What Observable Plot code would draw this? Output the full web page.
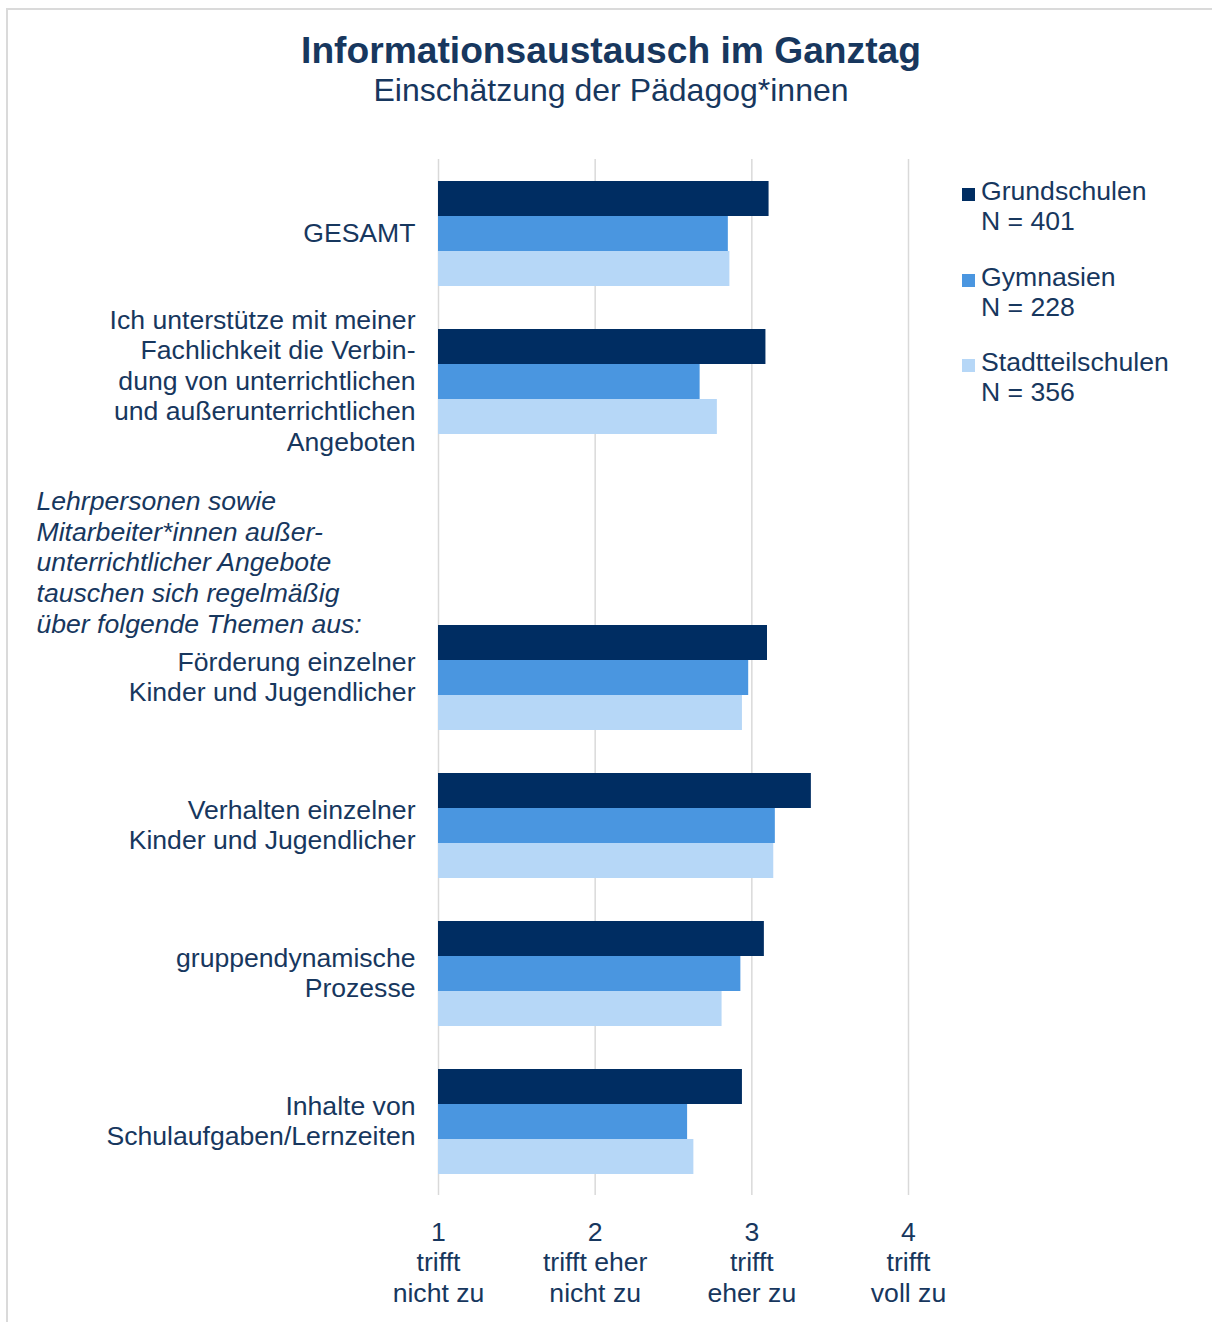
<!DOCTYPE html>
<html>
<head>
<meta charset="utf-8">
<script src="https://cdn.jsdelivr.net/npm/d3@7"></script>
<script src="https://cdn.jsdelivr.net/npm/@observablehq/plot@0.6"></script>
<style>
  html, body { margin: 0; padding: 0; background: #fff; }
  body { width: 1212px; height: 1322px; overflow: hidden; position: relative;
         font-family: "Liberation Sans", Arial, sans-serif; color: #17375e; }
  #frame { position: absolute; left: 6px; top: 8px; width: 1240px; height: 1340px;
           border: 2px solid #dadada; box-sizing: border-box; z-index: 10; pointer-events: none; }
  #title { position: absolute; left: 0; width: 1222px; top: 32px; text-align: center;
           font-weight: bold; font-size: 37.2px; line-height: 37px; }
  #subtitle { position: absolute; left: 0; width: 1222px; top: 74px; text-align: center;
              font-size: 32px; line-height: 32px; }
  #chart { position: absolute; left: 0; top: 120px; }
  .leg { position: absolute; left: 981px; font-size: 26.6px; line-height: 30px; white-space: pre; }
  .sw { position: absolute; left: 962px; width: 13px; height: 13px; }
</style>
</head>
<body>
<div id="frame"></div>
<div id="title"></div>
<div id="subtitle"></div>
<div id="chart"></div>
<div id="legend"></div>
<script>
const titleText = "Informationsaustausch im Ganztag";
const subtitleText = "Einschätzung der Pädagog*innen";

const categories = [
  "GESAMT",
  "Ich unterstütze mit meiner\nFachlichkeit die Verbin-\ndung von unterrichtlichen\nund außerunterrichtlichen\nAngeboten",
  "Lehrpersonen sowie\nMitarbeiter*innen außer-\nunterrichtlicher Angebote\ntauschen sich regelmäßig\nüber folgende Themen aus:",
  "Förderung einzelner\nKinder und Jugendlicher",
  "Verhalten einzelner\nKinder und Jugendlicher",
  "gruppendynamische\nProzesse",
  "Inhalte von\nSchulaufgaben/Lernzeiten"
];
const headingIndex = 2;

const series = ["Grundschulen", "Gymnasien", "Stadtteilschulen"];
const seriesN = ["N = 401", "N = 228", "N = 356"];
const colors = ["#002d62", "#4a96e0", "#b6d7f7"];

const grundschulen     = [3.11, 3.09, null, 3.10, 3.38, 3.08, 2.94];
const gymnasien        = [2.85, 2.67, null, 2.98, 3.15, 2.93, 2.59];
const stadtteilschulen = [2.86, 2.78, null, 2.94, 3.14, 2.81, 2.63];

const xTicks = [1, 2, 3, 4];
const xTickLabels = ["1\ntrifft\nnicht zu", "2\ntrifft eher\nnicht zu", "3\ntrifft\neher zu", "4\ntrifft\nvoll zu"];

const textColor = "#17375e";
const gridColor = "#d9d9d9";
const font = "Liberation Sans, Arial, sans-serif";
const fs = 26.6;

document.getElementById("title").textContent = titleText;
document.getElementById("subtitle").textContent = subtitleText;

const valueSets = [grundschulen, gymnasien, stadtteilschulen];
const rows = [];
categories.forEach((c, i) => {
  series.forEach((s, j) => {
    const v = valueSets[j][i];
    if (v != null) rows.push({category: c, series: s, value: v});
  });
});
const labelRows = categories.filter((c, i) => i !== headingIndex).map(c => ({category: c}));
const headingRows = [{category: categories[headingIndex]}];
const tickRows = xTicks.map((t, i) => ({tick: t, label: xTickLabels[i]}));
const lastCat = categories[categories.length - 1];

const chart = Plot.plot({
  width: 950,
  height: 1200,
  marginLeft: 438,
  marginRight: 42,
  marginTop: 38,
  marginBottom: 125,
  style: {fontFamily: font, background: "white", overflow: "visible"},
  x: {domain: [1, 4], axis: null},
  fy: {domain: categories, padding: 0, axis: null},
  y: {domain: series, paddingInner: 0, paddingOuter: 0.614, axis: null},
  color: {domain: series, range: colors},
  marks: [
    Plot.ruleX(xTicks, {x: d => d, stroke: gridColor, strokeWidth: 1.5}),
    Plot.barX(rows, {fy: "category", y: "series", x1: () => 1, x2: "value", fill: "series"}),
    Plot.text(labelRows, {fy: "category", text: "category", frameAnchor: "left", textAnchor: "end",
      dx: -23, dy: -1.5, fontSize: fs, lineHeight: 1.15, fill: textColor, fontFamily: font}),
    Plot.text(headingRows, {fy: "category", text: "category", frameAnchor: "left", textAnchor: "start",
      dx: -402, dy: 32, fontSize: fs, lineHeight: 1.155, fontStyle: "italic", fill: textColor, fontFamily: font}),
    Plot.text(tickRows, {fy: () => lastCat, x: "tick", text: "label", frameAnchor: "bottom", lineAnchor: "top",
      dy: 23, fontSize: fs, lineHeight: 1.165, fill: textColor, fontFamily: font})
  ]
});
document.getElementById("chart").appendChild(chart);

const legend = document.getElementById("legend");
const legTops = [176, 262, 347];
series.forEach((s, i) => {
  const t = document.createElement("div");
  t.className = "leg";
  t.style.top = legTops[i] + "px";
  t.textContent = s + "\n" + seriesN[i];
  legend.appendChild(t);
  const sw = document.createElement("div");
  sw.className = "sw";
  sw.style.top = (legTops[i] + 12) + "px";
  sw.style.background = colors[i];
  legend.appendChild(sw);
});
</script>
</body>
</html>
